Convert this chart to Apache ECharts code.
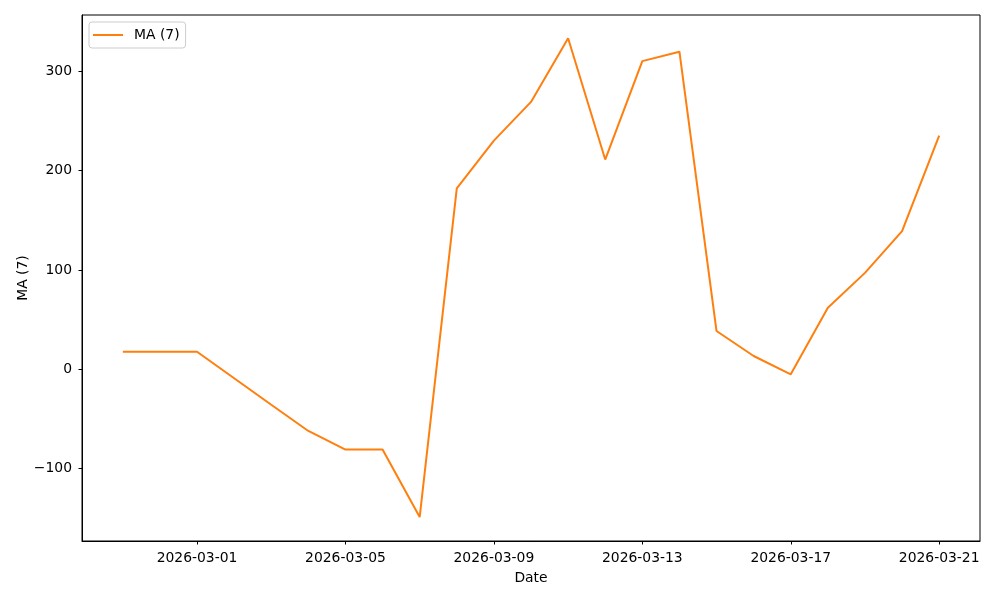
<!DOCTYPE html>
<html>
<head>
<meta charset="utf-8">
<script src="https://cdn.jsdelivr.net/npm/echarts@6/dist/echarts.min.js"></script>
<style>
    html, body { margin: 0; padding: 0; background: #fff; }
    #chart { width: 1000px; height: 600px; }
</style>
</head>
<body>
<div id="chart"></div>
<script>
    // 日期与7日均线数值
    var dates = ['2026-02-27', '2026-02-28', '2026-03-01', '2026-03-02', '2026-03-03', '2026-03-04',
        '2026-03-05', '2026-03-06', '2026-03-07', '2026-03-08', '2026-03-09', '2026-03-10',
        '2026-03-11', '2026-03-12', '2026-03-13', '2026-03-14', '2026-03-15', '2026-03-16',
        '2026-03-17', '2026-03-18', '2026-03-19', '2026-03-20', '2026-03-21'];
    var maValues = [17.7, 17.7, 17.7, -9, -35.6, -62, -80.7, -80.7, -148.6, 182, 230, 269,
        333, 211, 310, 319.5, 38.5, 13.4, -5, 62, 97, 139, 235];
    var xTickDates = ['2026-03-01', '2026-03-05', '2026-03-09', '2026-03-13', '2026-03-17', '2026-03-21'];
    var yTicks = [-100, 0, 100, 200, 300];

    var seriesData = maValues.map(function (v, i) { return [i, v]; });
    var xTickIdx = xTickDates.map(function (d) { return dates.indexOf(d); });

    var font = 'DejaVu Sans';
    var myChart = echarts.init(document.getElementById('chart'));
    var option = {
        animation: false,
        textStyle: { fontFamily: font },
        grid: {
            left: 82, right: 20, top: 15, bottom: 59,
            show: true, borderColor: '#000', borderWidth: 1, backgroundColor: '#fff'
        },
        legend: {
            left: 89, top: 22,
            data: ['MA (7)'],
            icon: 'rect',
            itemWidth: 30, itemHeight: 2,
            padding: [6, 6, 6, 4],
            borderColor: '#ccc', borderWidth: 1, borderRadius: 3,
            backgroundColor: '#fff',
            textStyle: { fontFamily: font, fontSize: 13.9, color: '#000', padding: [0, 0, 0, 6] }
        },
        xAxis: {
            type: 'value',
            min: -1.1, max: 23.1,
            name: 'Date',
            nameLocation: 'middle',
            nameGap: 30,
            nameMoveOverlap: false,
            nameTextStyle: { fontFamily: font, fontSize: 13.9, color: '#000' },
            splitLine: { show: false },
            axisLine: { onZero: false, lineStyle: { color: '#000', width: 1 } },
            axisTick: { show: true, customValues: xTickIdx, length: 3.5, lineStyle: { color: '#000' } },
            axisLabel: {
                customValues: xTickIdx,
                margin: 10,
                fontFamily: font, fontSize: 13.9, color: '#000',
                formatter: function (v) { return dates[Math.round(v)]; }
            }
        },
        yAxis: {
            type: 'value',
            min: -172.7, max: 356.4,
            name: 'MA (7)',
            nameLocation: 'middle',
            nameGap: 52,
            nameMoveOverlap: false,
            nameTextStyle: { fontFamily: font, fontSize: 13.9, color: '#000' },
            splitLine: { show: false },
            axisLine: { show: true, onZero: false, lineStyle: { color: '#000', width: 1 } },
            axisTick: { show: true, customValues: yTicks, length: 3.5, lineStyle: { color: '#000' } },
            axisLabel: {
                customValues: yTicks,
                margin: 10,
                fontFamily: font, fontSize: 13.9, color: '#000',
                formatter: function (v) { return v < 0 ? '\u2212' + Math.abs(v) : String(v); }
            }
        },
        series: [{
            name: 'MA (7)',
            type: 'line',
            data: seriesData,
            showSymbol: false,
            symbol: 'none',
            color: '#ff7f0e',
            lineStyle: { color: '#ff7f0e', width: 2 }
        }]
    };
    myChart.setOption(option);
</script>
</body>
</html>
